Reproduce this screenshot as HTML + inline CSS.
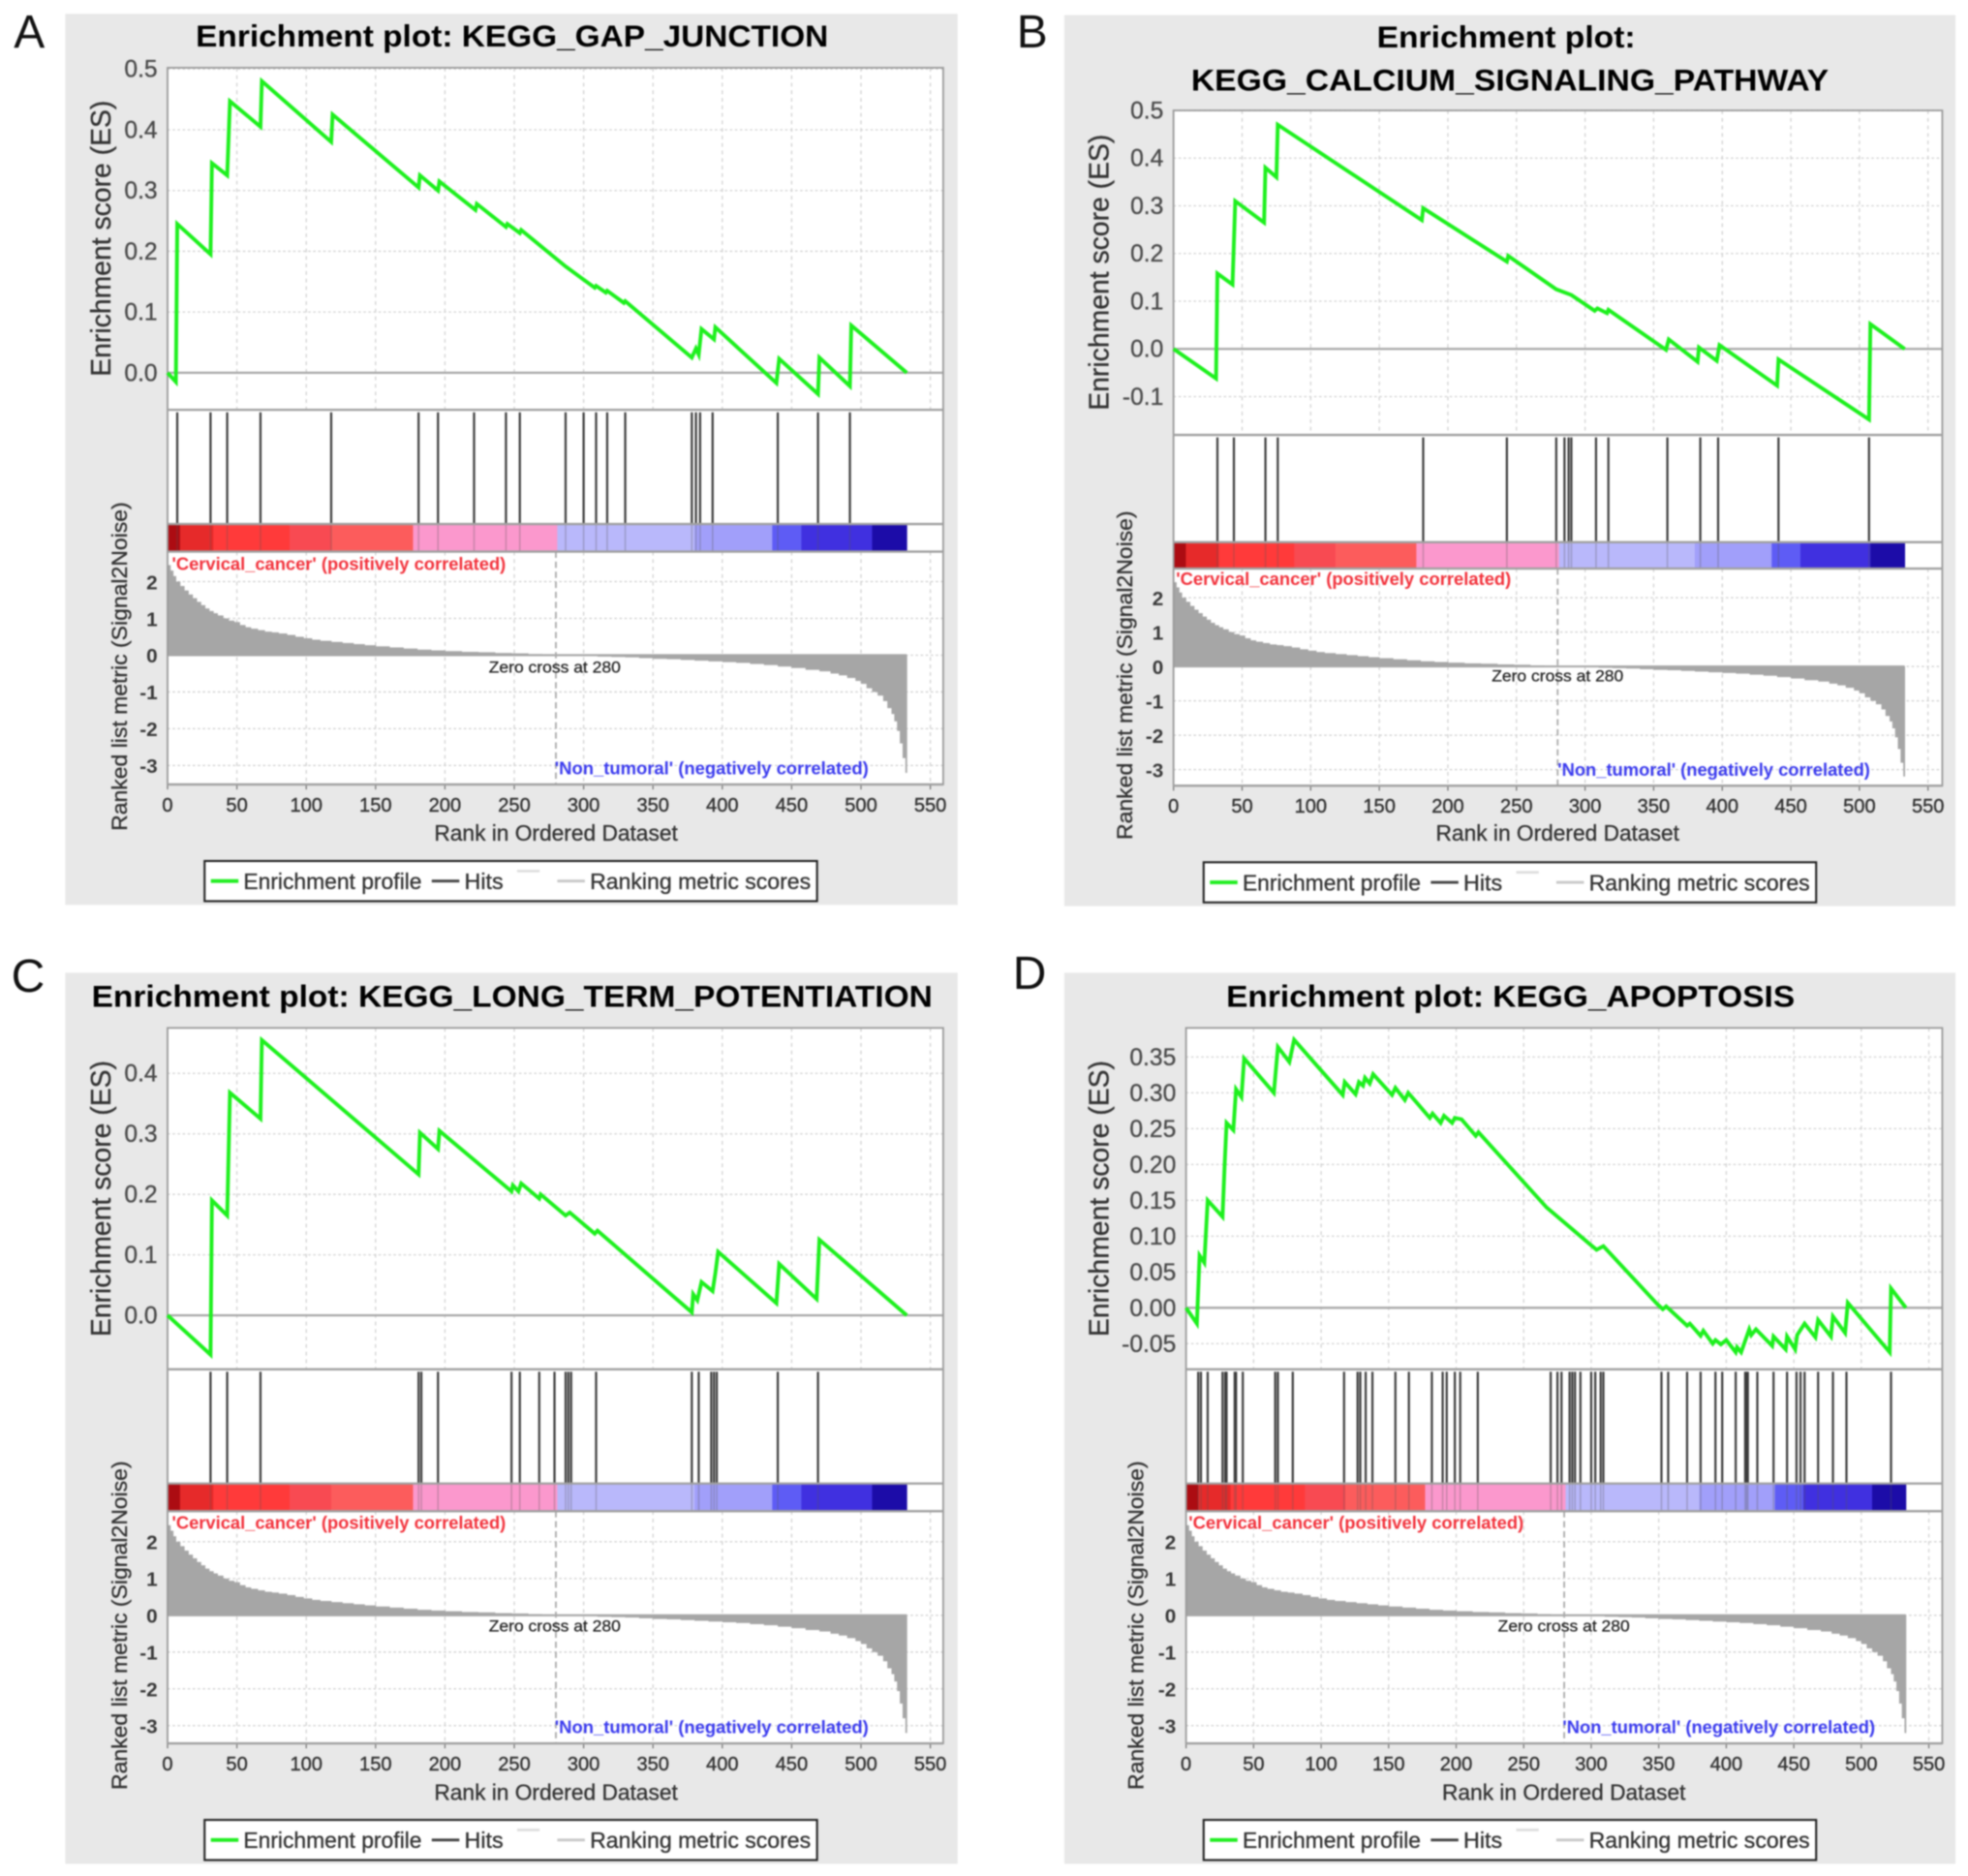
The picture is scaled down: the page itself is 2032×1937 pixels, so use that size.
<!DOCTYPE html>
<html lang="en">
<head>
<meta charset="utf-8">
<title>GSEA enrichment plots</title>
<style>
html,body{margin:0;padding:0;background:#fff;}
svg{display:block;filter:blur(0.7px);font-family:"Liberation Sans",sans-serif;}
.title{font-weight:bold;font-size:24.5px;fill:#000;text-anchor:start;}
.letter{font-size:37px;fill:#111;}
.axt{font-size:22px;fill:#333;text-anchor:middle;stroke:#333;stroke-width:.25px;}
.rkt{font-size:17px;fill:#333;text-anchor:middle;stroke:#333;stroke-width:.25px;}
.xt{font-size:18px;fill:#333;text-anchor:middle;stroke:#333;stroke-width:.25px;}
.red{font-size:14px;fill:#f2323c;font-weight:bold;}
.blue{font-size:14px;fill:#3a3aee;font-weight:bold;}
.zc{font-size:12.5px;fill:#222;text-anchor:middle;stroke:#222;stroke-width:.2px;}
.lg{font-size:18px;fill:#333;stroke:#333;stroke-width:.25px;}
</style>
</head>
<body>
<svg id="fig" xmlns="http://www.w3.org/2000/svg" width="2032" height="1937" viewBox="0 0 1568 1494.7" preserveAspectRatio="none">
<rect width="1568" height="1495" fill="#fff"/>

<!-- Panel A -->
<g>
<text class="letter" x="11" y="38">A</text>
<rect x="52" y="11" width="711" height="710" fill="#e8e8e8"/>
<text class="title" x="156" y="37" textLength="504" lengthAdjust="spacingAndGlyphs">Enrichment plot: KEGG_GAP_JUNCTION</text>
<g id="marks-a"></g>
<text class="axt" transform="translate(88,190) rotate(-90)" textLength="220" lengthAdjust="spacingAndGlyphs">Enrichment score (ES)</text>
<text class="rkt" transform="translate(101,531) rotate(-90)" textLength="262" lengthAdjust="spacingAndGlyphs">Ranked list metric (Signal2Noise)</text>
<text class="xt" x="443" y="670" textLength="194" lengthAdjust="spacingAndGlyphs">Rank in Ordered Dataset</text>
<text class="red" x="137" y="454" textLength="266" lengthAdjust="spacingAndGlyphs">'Cervical_cancer' (positively correlated)</text>
<text class="blue" x="442" y="617" textLength="250" lengthAdjust="spacingAndGlyphs">'Non_tumoral' (negatively correlated)</text>
<text class="zc" x="442" y="536" textLength="105" lengthAdjust="spacingAndGlyphs">Zero cross at 280</text>
<g transform="translate(0,0)">
<rect x="163" y="686" width="488" height="32" fill="#fff" stroke="#222" stroke-width="1.6"/>
<line x1="168" x2="190" y1="702" y2="702" stroke="#22ee22" stroke-width="3"/>
<text class="lg" x="194" y="708.5" textLength="142" lengthAdjust="spacingAndGlyphs">Enrichment profile</text>
<line x1="344" x2="366" y1="702" y2="702" stroke="#444" stroke-width="2.2"/>
<text class="lg" x="370" y="708.5" textLength="31" lengthAdjust="spacingAndGlyphs">Hits</text>
<line x1="412" x2="430" y1="694" y2="694" stroke="#ddd" stroke-width="2"/>
<line x1="444" x2="466" y1="702" y2="702" stroke="#c8c8c8" stroke-width="2.2"/>
<text class="lg" x="470" y="708.5" textLength="176" lengthAdjust="spacingAndGlyphs">Ranking metric scores</text>
</g>
</g>

<!-- Panel B -->
<g>
<text class="letter" x="810" y="38">B</text>
<rect x="848" y="12" width="710" height="710" fill="#e8e8e8"/>
<text class="title" x="1097" y="38" textLength="206" lengthAdjust="spacingAndGlyphs">Enrichment plot:</text>
<text class="title" x="949" y="72" textLength="508" lengthAdjust="spacingAndGlyphs">KEGG_CALCIUM_SIGNALING_PATHWAY</text>
<g id="marks-b"></g>
<text class="axt" transform="translate(883,217) rotate(-90)" textLength="220" lengthAdjust="spacingAndGlyphs">Enrichment score (ES)</text>
<text class="rkt" transform="translate(902,538) rotate(-90)" textLength="262" lengthAdjust="spacingAndGlyphs">Ranked list metric (Signal2Noise)</text>
<text class="xt" x="1241" y="670" textLength="194" lengthAdjust="spacingAndGlyphs">Rank in Ordered Dataset</text>
<text class="red" x="937" y="466" textLength="267" lengthAdjust="spacingAndGlyphs">'Cervical_cancer' (positively correlated)</text>
<text class="blue" x="1241" y="618" textLength="249" lengthAdjust="spacingAndGlyphs">'Non_tumoral' (negatively correlated)</text>
<text class="zc" x="1241" y="543" textLength="105" lengthAdjust="spacingAndGlyphs">Zero cross at 280</text>
<g transform="translate(796,1)">
<rect x="163" y="686" width="488" height="32" fill="#fff" stroke="#222" stroke-width="1.6"/>
<line x1="168" x2="190" y1="702" y2="702" stroke="#22ee22" stroke-width="3"/>
<text class="lg" x="194" y="708.5" textLength="142" lengthAdjust="spacingAndGlyphs">Enrichment profile</text>
<line x1="344" x2="366" y1="702" y2="702" stroke="#444" stroke-width="2.2"/>
<text class="lg" x="370" y="708.5" textLength="31" lengthAdjust="spacingAndGlyphs">Hits</text>
<line x1="412" x2="430" y1="694" y2="694" stroke="#ddd" stroke-width="2"/>
<line x1="444" x2="466" y1="702" y2="702" stroke="#c8c8c8" stroke-width="2.2"/>
<text class="lg" x="470" y="708.5" textLength="176" lengthAdjust="spacingAndGlyphs">Ranking metric scores</text>
</g>
</g>

<!-- Panel C -->
<g>
<text class="letter" x="9" y="790">C</text>
<rect x="52" y="775" width="711" height="710" fill="#e8e8e8"/>
<text class="title" x="73" y="802" textLength="670" lengthAdjust="spacingAndGlyphs">Enrichment plot: KEGG_LONG_TERM_POTENTIATION</text>
<g id="marks-c"></g>
<text class="axt" transform="translate(88,955) rotate(-90)" textLength="220" lengthAdjust="spacingAndGlyphs">Enrichment score (ES)</text>
<text class="rkt" transform="translate(101,1295) rotate(-90)" textLength="262" lengthAdjust="spacingAndGlyphs">Ranked list metric (Signal2Noise)</text>
<text class="xt" x="443" y="1434" textLength="194" lengthAdjust="spacingAndGlyphs">Rank in Ordered Dataset</text>
<text class="red" x="137" y="1218" textLength="266" lengthAdjust="spacingAndGlyphs">'Cervical_cancer' (positively correlated)</text>
<text class="blue" x="442" y="1381" textLength="250" lengthAdjust="spacingAndGlyphs">'Non_tumoral' (negatively correlated)</text>
<text class="zc" x="442" y="1300" textLength="105" lengthAdjust="spacingAndGlyphs">Zero cross at 280</text>
<g transform="translate(0,764)">
<rect x="163" y="686" width="488" height="32" fill="#fff" stroke="#222" stroke-width="1.6"/>
<line x1="168" x2="190" y1="702" y2="702" stroke="#22ee22" stroke-width="3"/>
<text class="lg" x="194" y="708.5" textLength="142" lengthAdjust="spacingAndGlyphs">Enrichment profile</text>
<line x1="344" x2="366" y1="702" y2="702" stroke="#444" stroke-width="2.2"/>
<text class="lg" x="370" y="708.5" textLength="31" lengthAdjust="spacingAndGlyphs">Hits</text>
<line x1="412" x2="430" y1="694" y2="694" stroke="#ddd" stroke-width="2"/>
<line x1="444" x2="466" y1="702" y2="702" stroke="#c8c8c8" stroke-width="2.2"/>
<text class="lg" x="470" y="708.5" textLength="176" lengthAdjust="spacingAndGlyphs">Ranking metric scores</text>
</g>
</g>

<!-- Panel D -->
<g>
<text class="letter" x="807" y="788">D</text>
<rect x="848" y="775" width="710" height="710" fill="#e8e8e8"/>
<text class="title" x="977" y="802" textLength="453" lengthAdjust="spacingAndGlyphs">Enrichment plot: KEGG_APOPTOSIS</text>
<g id="marks-d"></g>
<text class="axt" transform="translate(883,955) rotate(-90)" textLength="220" lengthAdjust="spacingAndGlyphs">Enrichment score (ES)</text>
<text class="rkt" transform="translate(911,1295) rotate(-90)" textLength="262" lengthAdjust="spacingAndGlyphs">Ranked list metric (Signal2Noise)</text>
<text class="xt" x="1246" y="1434" textLength="194" lengthAdjust="spacingAndGlyphs">Rank in Ordered Dataset</text>
<text class="red" x="947" y="1218" textLength="267" lengthAdjust="spacingAndGlyphs">'Cervical_cancer' (positively correlated)</text>
<text class="blue" x="1245" y="1381" textLength="249" lengthAdjust="spacingAndGlyphs">'Non_tumoral' (negatively correlated)</text>
<text class="zc" x="1246" y="1300" textLength="105" lengthAdjust="spacingAndGlyphs">Zero cross at 280</text>
<g transform="translate(796,764)">
<rect x="163" y="686" width="488" height="32" fill="#fff" stroke="#222" stroke-width="1.6"/>
<line x1="168" x2="190" y1="702" y2="702" stroke="#22ee22" stroke-width="3"/>
<text class="lg" x="194" y="708.5" textLength="142" lengthAdjust="spacingAndGlyphs">Enrichment profile</text>
<line x1="344" x2="366" y1="702" y2="702" stroke="#444" stroke-width="2.2"/>
<text class="lg" x="370" y="708.5" textLength="31" lengthAdjust="spacingAndGlyphs">Hits</text>
<line x1="412" x2="430" y1="694" y2="694" stroke="#ddd" stroke-width="2"/>
<line x1="444" x2="466" y1="702" y2="702" stroke="#c8c8c8" stroke-width="2.2"/>
<text class="lg" x="470" y="708.5" textLength="176" lengthAdjust="spacingAndGlyphs">Ranking metric scores</text>
</g>
</g>
</svg>

<script>
// ---- Shared ranking data ----
const rankTicks = [0,50,100,150,200,250,300,350,400,450,500,550];
const metricTicks = [2,1,0,-1,-2,-3];
const metricRanks = [0,2,4,6,9,12,15,18,21,24,27,30,33,36,40,44,48,52,56,60,65,70,75,80,86,92,98,104,110,118,126,134,142,150,160,170,180,190,200,212,224,236,248,260,270,280,290,300,310,320,330,340,350,360,370,380,390,400,410,420,430,440,450,460,470,478,484,490,496,500,504,508,512,516,519,522,524,526,528,530,532];
const metricValues = [2.45,2.3,2.15,2.0,1.88,1.76,1.65,1.55,1.45,1.36,1.27,1.2,1.14,1.08,1.0,.94,.9,.82,.76,.72,.68,.64,.62,.59,.55,.5,.46,.42,.39,.36,.33,.3,.27,.24,.21,.18,.15,.13,.11,.09,.08,.06,.05,.03,.02,0,-.01,-.02,-.04,-.05,-.06,-.08,-.1,-.11,-.13,-.15,-.17,-.19,-.21,-.24,-.27,-.31,-.35,-.4,-.44,-.5,-.55,-.62,-.7,-.78,-.9,-1.0,-1.1,-1.25,-1.44,-1.6,-1.8,-2.06,-2.4,-2.8,-3.2];
const lastRank = 533;
const zeroCrossRank = 280;
const bandEnds = [9,33,88,118,177,281,380,436,457,508,533];

// ---- Panel A: KEGG_GAP_JUNCTION ----
const aEsTicks = [0.5,0.4,0.3,0.2,0.1,0.0];
const aEsRanks = [0,6,7,31,32,43,45,67,68,118,119,181,182,195,196,222,223,244,245,254,255,287,299,308,309,316,317,329,330,378,379,381,383,385,394,395,439,441,469,470,492,493,533];
const aEsScores = [0,-.015,.245,.195,.345,.325,.447,.405,.48,.38,.425,.305,.325,.30,.315,.268,.278,.24,.245,.23,.235,.175,.155,.14,.143,.132,.135,.115,.118,.025,.03,.04,.03,.072,.055,.075,-.017,.023,-.035,.025,-.022,.078,0];
const aHits = [7,31,43,67,118,181,195,221,244,254,287,300,309,317,330,378,381,384,393,440,469,492];

// ---- Panel B: KEGG_CALCIUM_SIGNALING_PATHWAY ----
const bEsTicks = [0.5,0.4,0.3,0.2,0.1,0.0,-0.1];
const bEsRanks = [0,31,32,43,45,66,67,75,76,181,182,243,244,279,290,307,309,316,317,359,361,382,383,396,398,440,441,507,508,533];
const bEsScores = [0,-.062,.158,.135,.31,.265,.38,.36,.47,.27,.295,.183,.195,.125,.113,.08,.085,.075,.082,-.002,.02,-.027,.003,-.025,.008,-.077,-.022,-.148,.052,0];
const bHits = [32,44,67,76,182,243,279,285,288,290,308,317,360,384,397,441,507];

// ---- Panel C: KEGG_LONG_TERM_POTENTIATION ----
const cEsTicks = [0.4,0.3,0.2,0.1,0.0];
const cEsRanks = [0,31,32,43,45,67,68,181,182,195,196,248,249,253,255,268,269,287,290,308,310,378,379,382,385,393,395,397,439,441,468,470,533];
const cEsScores = [0,-.065,.19,.165,.368,.325,.455,.233,.302,.275,.305,.205,.215,.205,.218,.193,.2,.165,.17,.135,.14,.005,.035,.025,.055,.04,.07,.105,.02,.085,.027,.125,0];
const cHits = [31,43,67,181,183,195,248,254,268,279,287,289,291,309,378,383,392,394,396,440,469];

// ---- Panel D: KEGG_APOPTOSIS ----
const dEsTicks = [0.35,0.30,0.25,0.20,0.15,0.10,0.05,0.00,-0.05];
const dEsRanks = [0,8,10,13.5,16,27,28.5,30,35,37,41,43,65,68,76.5,80,116,117.5,125.5,128,131,132.5,136,138.5,152.5,155,162,164.5,180.5,182.5,188.5,191,197,199,204,214.5,216.5,267,299.5,304,309,348.5,353,355.5,371,373,381,383,390,392,396,400,407,408,411,417,418.5,422,434,435,444,445,451,452.5,458,466,468,477.5,479,488,490,521,522,533];
const dEsScores = [0,-.022,.073,.063,.15,.127,.197,.258,.248,.305,.294,.348,.30,.364,.343,.374,.297,.315,.298,.315,.31,.321,.313,.326,.297,.307,.29,.30,.265,.271,.258,.268,.258,.265,.263,.24,.245,.14,.088,.081,.086,.006,-.002,.002,-.025,-.022,-.039,-.032,-.05,-.045,-.051,-.045,-.062,-.055,-.062,-.03,-.038,-.03,-.053,-.04,-.058,-.04,-.058,-.038,-.022,-.041,-.017,-.04,-.012,-.035,.007,-.062,.027,0];
const dHits = [9,11,16,27,29,30,36,37,42,66,68,79,117,127,129,133,138,155,165,182,190,193,199,203,216,270,275,278,284,286,288,292,300,303,307,309,352,357,371,381,392,397,407,414,415,416,423,435,445,452,455,458,468,479,489,522];

// ---- Drawing ----
const SVGNS = 'http://www.w3.org/2000/svg';
const bandPalette = ['#ac0c12','#e62a2a','#ff3a3a','#f84a52','#fc5c5c','#fb98cd','#b9b8fb','#a19ffa','#5e5cf5','#4030e0','#1c0ca8'];

function make(tag, parent, attrs) {
  const el = document.createElementNS(SVGNS, tag);
  for (const k in attrs) el.setAttribute(k, attrs[k]);
  parent.appendChild(el);
  return el;
}

function drawPanel(id, box, esTicks, esDecimals, esRanks, esScores, hits) {
  const root = document.getElementById('marks-' + id);
  const xScale = r => box.left + r * box.perRank;
  const esScale = v => box.es0 - v * box.esPerUnit;
  const metricScale = v => box.metric0 - v * box.metricPerUnit;

  // plot backgrounds
  const bg = make('rect', root, {x: box.left, y: box.top, width: box.right - box.left, height: box.bottom - box.top, fill: '#ffffff'});
  
  

  // vertical grid
  rankTicks.forEach(t => {
    const x = xScale(t);
    [[box.top, box.esBottom], [box.barBottom, box.bottom]].forEach(span => {
      const g = make('line', root, {x1: x, x2: x, y1: span[0], y2: span[1], stroke: '#d2d2d2', 'stroke-width': 1, 'stroke-dasharray': '3 3'});
      
      
    });
    const tick = make('line', root, {x1: x, x2: x, y1: box.bottom, y2: box.bottom + 4, stroke: '#777', 'stroke-width': 1});
    
    
    const lab = make('text', root, {x: x, y: box.bottom + 21.5, 'text-anchor': 'middle', 'font-size': 15.5, fill: '#333', stroke: '#333', 'stroke-width': 0.3});
    lab.textContent = String(t);
    
    
  });

  // ES horizontal grid and labels
  esTicks.forEach(v => {
    const y = esScale(v);
    const g = make('line', root, {x1: box.left, x2: box.right, y1: y, y2: y, stroke: '#d2d2d2', 'stroke-width': 1, 'stroke-dasharray': '2 2'});
    
    
    const lab = make('text', root, {x: box.left - 8, y: y + 6.5, 'text-anchor': 'end', 'font-size': 19, fill: '#4a4a4a', stroke: '#4a4a4a', 'stroke-width': 0.25});
    lab.textContent = v.toFixed(esDecimals);
    
    
  });

  // metric horizontal grid and labels
  metricTicks.forEach(v => {
    const y = metricScale(v);
    const g = make('line', root, {x1: box.left, x2: box.right, y1: y, y2: y, stroke: '#cfcfcf', 'stroke-width': 1, 'stroke-dasharray': '2 2'});
    
    
    const lab = make('text', root, {x: box.left - 8, y: y + 6, 'text-anchor': 'end', 'font-size': 16, 'font-weight': 'bold', fill: '#3a3a3a'});
    lab.textContent = String(v);
    
    
  });

  // metric bars
  metricRanks.forEach((r, i) => {
    const next = i + 1 < metricRanks.length ? metricRanks[i + 1] : lastRank;
    const y = metricScale(metricValues[i]);
    const y0 = metricScale(0);
    const bar = make('rect', root, {x: xScale(r), width: xScale(next) - xScale(r) + 0.3, y: Math.min(y, y0), height: Math.abs(y0 - y), fill: '#a6a6a6'});
    
    
  });

  // metric baseline
  const base = make('line', root, {x1: xScale(0), x2: xScale(lastRank), y1: metricScale(0), y2: metricScale(0), stroke: '#a6a6a6', 'stroke-width': 1.6});
  
  

  // zero cross marker
  const zc = make('line', root, {x1: xScale(zeroCrossRank), x2: xScale(zeroCrossRank), y1: box.barBottom, y2: box.bottom, stroke: '#aaaaaa', 'stroke-width': 1.4, 'stroke-dasharray': '5 3'});
  
  

  // ES zero line
  const zl = make('line', root, {x1: box.left, x2: box.right, y1: esScale(0), y2: esScale(0), stroke: '#a8a8a8', 'stroke-width': 1.8});
  
  

  // colour band
  let start = 0;
  bandEnds.forEach((end, i) => {
    const seg = make('rect', root, {x: xScale(start), width: xScale(end) - xScale(start) + 0.3, y: box.barTop, height: box.barBottom - box.barTop, fill: bandPalette[i]});
    
    
    start = end;
  });

  // hits
  hits.forEach(r => {
    const ln = make('line', root, {x1: xScale(r), x2: xScale(r), y1: box.esBottom + 2, y2: box.barTop, stroke: '#3c3c3c', 'stroke-width': 1.7});
    
    
    const sh = make('line', root, {x1: xScale(r), x2: xScale(r), y1: box.barTop, y2: box.barBottom, stroke: '#555', 'stroke-width': 1.2, 'stroke-opacity': 0.3});
    
    
  });

  // frame lines
  const frame = make('rect', root, {x: box.left, y: box.top, width: box.right - box.left, height: box.bottom - box.top, fill: 'none', stroke: '#9a9a9a', 'stroke-width': 1.4});
  
  
  [box.esBottom, box.barTop, box.barBottom, box.bottom].forEach(y => {
    const d = make('line', root, {x1: box.left, x2: box.right, y1: y, y2: y, stroke: '#a0a0a0', 'stroke-width': 1.8});
    
    
  });

  // ES curve
  const pts = esRanks.map((r, i) => xScale(r).toFixed(2) + ',' + esScale(esScores[i]).toFixed(2)).join(' ');
  const curve = make('polyline', root, {points: pts, fill: 'none', stroke: '#1df01d', 'stroke-width': 3, 'stroke-linejoin': 'miter'});
  
  
}

drawPanel('a', {left:133.5, right:751.5, perRank:1.105, top:54, esBottom:326.5, barTop:417.5, barBottom:439.5, bottom:625, es0:297, esPerUnit:484, metric0:522, metricPerUnit:29.3}, aEsTicks, 1, aEsRanks, aEsScores, aHits);
drawPanel('b', {left:935, right:1547.5, perRank:1.093, top:88, esBottom:346.5, barTop:432, barBottom:453, bottom:626, es0:278, esPerUnit:380, metric0:531, metricPerUnit:27.4}, bEsTicks, 1, bEsRanks, bEsScores, bHits);
drawPanel('c', {left:133.5, right:751.5, perRank:1.105, top:819, esBottom:1091, barTop:1182, barBottom:1204, bottom:1389, es0:1048, esPerUnit:482, metric0:1287, metricPerUnit:29.3}, cEsTicks, 1, cEsRanks, cEsScores, cHits);
drawPanel('d', {left:945, right:1547.5, perRank:1.076, top:819, esBottom:1091, barTop:1182, barBottom:1204, bottom:1389, es0:1042, esPerUnit:571, metric0:1287, metricPerUnit:29.3}, dEsTicks, 2, dEsRanks, dEsScores, dHits);
</script>
</body>
</html>
